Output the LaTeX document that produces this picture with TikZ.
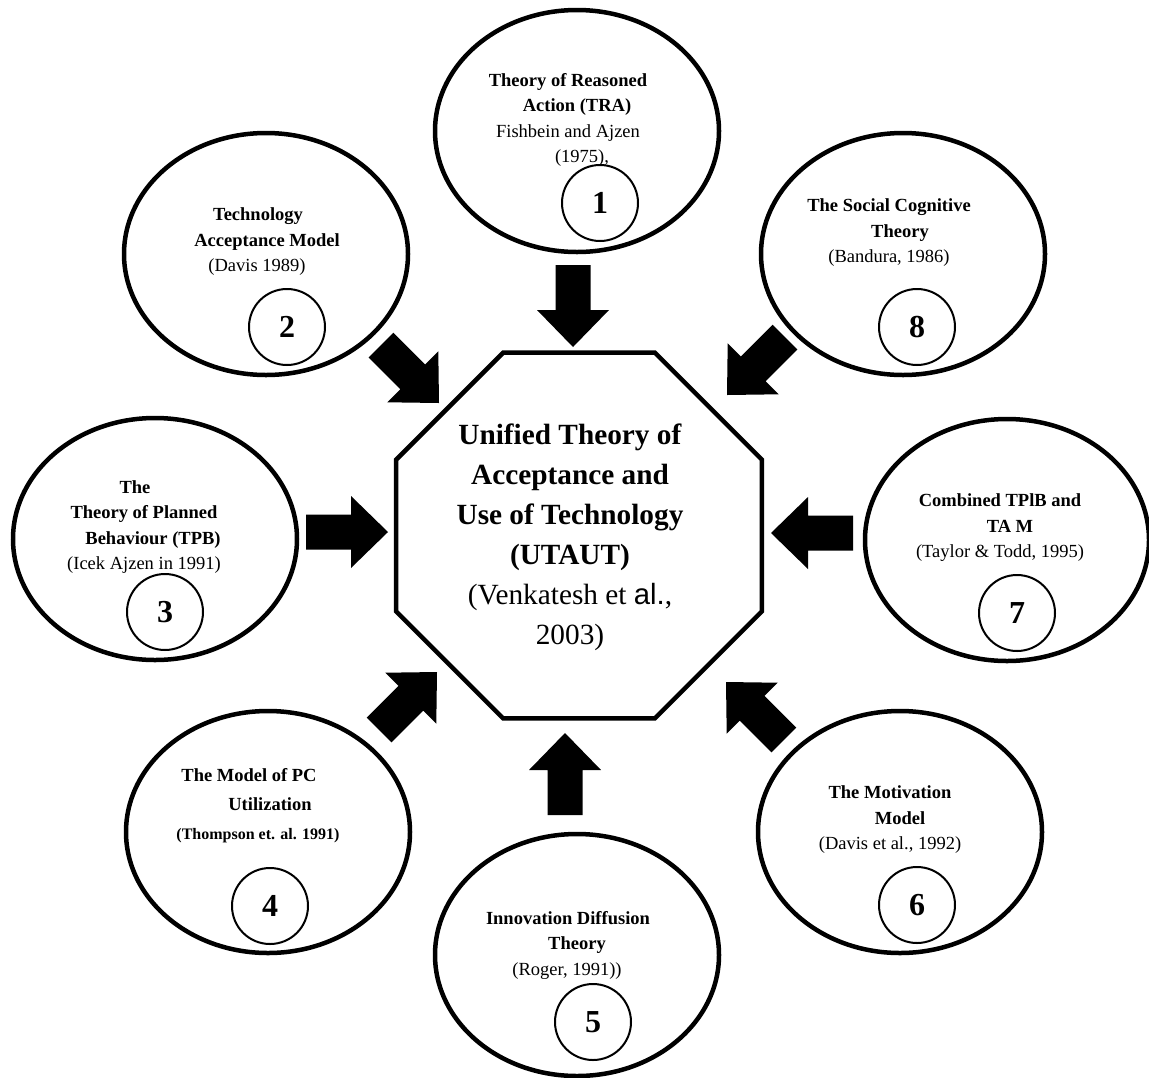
\documentclass[tikz,border=0pt]{standalone}
\usepackage{fontspec}
\setmainfont{Liberation Serif}
\setsansfont{Liberation Sans}
\usetikzlibrary{shapes.geometric}

% shift one line sideways without changing its width
\newcommand\shiftln[2]{\hbox{\kern#1\relax#2\kern-#1\relax}}

\tikzset{
  theory/.style={draw, line width=4.5pt, ellipse, minimum width=284pt,
    minimum height=242pt, inner sep=0pt},
  theorytext/.style={align=center, inner sep=0pt,
    font=\fontsize{18.5}{25.5}\selectfont},
  numcircle/.style={draw, circle, line width=2pt, minimum size=76pt,
    inner sep=0pt, font=\fontsize{32}{32}\selectfont\bfseries},
  core/.style={draw, line width=4.5pt, regular polygon, regular polygon sides=8,
    minimum size=396pt, inner sep=0pt},
  coretext/.style={align=center, inner sep=0pt,
    font=\fontsize{29.3}{40}\selectfont},
  pics/inflow/.style={code={
    \fill (0,0) -- (-37,36) -- (-37,17.5) -- (-82,17.5) -- (-82,-17.5)
      -- (-37,-17.5) -- (-37,-36) -- cycle;}}
}

\begin{document}
\begin{tikzpicture}[x=1pt, y=-1pt]
\useasboundingbox (0,0) rectangle (1149,1077);

% central octagon
\node[core] (utaut) at (579,535.5) {};
\node[coretext] (utauttext) at (570,537)
  {\textbf{Unified Theory of}\\\textbf{Acceptance and}\\
   \textbf{Use of Technology}\\\textbf{(UTAUT)}\\
   (Venkatesh et {\sffamily al.},\\2003)};

% surrounding theories
\node[theory] (e1) at (577,131) {};
\node[theory] (e2) at (266,254) {};
\node[theory] (e3) at (155,539) {};
\node[theory] (e4) at (268,832) {};
\node[theory] (e5) at (577,955) {};
\node[theory] (e6) at (900,832) {};
\node[theory] (e7) at (1007,540) {};
\node[theory] (e8) at (903,254) {};

\node[theorytext] (e1t) at (568,120)
  {\textbf{Theory of Reasoned}\\\shiftln{9pt}{\textbf{Action (TRA)}}\\
   Fishbein and Ajzen\\\shiftln{14pt}{(1975),}};
\node[theorytext] (e2t) at (267,242)
  {\shiftln{-9pt}{\textbf{Technology}}\\\textbf{Acceptance Model}\\
   \shiftln{-10pt}{(Davis 1989)}};
\node[theorytext] (e3t) at (144,527)
  {\shiftln{-9pt}{\textbf{The}}\\\textbf{Theory of Planned}\\
   \shiftln{9pt}{\textbf{Behaviour (TPB)}}\\(Icek Ajzen in 1991)};
\node[theorytext, font=\fontsize{18.5}{29}\selectfont] (e4t) at (258,806)
  {\shiftln{-9pt}{\textbf{The Model of PC}}\\\shiftln{12pt}{\textbf{Utilization}}\\
   {\fontsize{16}{16}\selectfont\bfseries (Thompson et. al. 1991)}};
\node[theorytext] (e5t) at (568,945)
  {\textbf{Innovation Diffusion}\\\shiftln{9pt}{\textbf{Theory}}\\
   \shiftln{-1pt}{(Roger, 1991))}};
\node[theorytext] (e6t) at (890,820)
  {\textbf{The Motivation}\\\shiftln{10pt}{\textbf{Model}}\\
   (Davis et al., 1992)};
\node[theorytext] (e7t) at (1000,528)
  {\textbf{Combined TPlB and}\\\shiftln{10pt}{\textbf{TA M}}\\
   (Taylor \& Todd, 1995)};
\node[theorytext] (e8t) at (889,233)
  {\textbf{The Social Cognitive}\\\shiftln{11pt}{\textbf{Theory}}\\
   (Bandura, 1986)};

% numbered badges
\node[numcircle] (n1) at (600,203) {1};
\node[numcircle] (n2) at (287,327) {2};
\node[numcircle] (n3) at (165,612) {3};
\node[numcircle] (n4) at (270,906) {4};
\node[numcircle] (n5) at (593,1022) {5};
\node[numcircle] (n6) at (917,905) {6};
\node[numcircle] (n7) at (1017,613) {7};
\node[numcircle] (n8) at (917,327) {8};

% block arrows pointing into the octagon
\coordinate (t1) at (573,347);
\coordinate (t2) at (439,403);
\coordinate (t3) at (388,532);
\coordinate (t4) at (437,672);
\coordinate (t5) at (565,733);
\coordinate (t6) at (726,682);
\coordinate (t7) at (771,533);
\coordinate (t8) at (727,395);
\pic[rotate=-90]  at (t1) {inflow};
\pic[rotate=-45]  at (t2) {inflow};
\pic[rotate=0]    at (t3) {inflow};
\pic[rotate=45]   at (t4) {inflow};
\pic[rotate=90]   at (t5) {inflow};
\pic[rotate=135]  at (t6) {inflow};
\pic[rotate=180]  at (t7) {inflow};
\pic[rotate=-135] at (t8) {inflow};
\end{tikzpicture}
\end{document}
